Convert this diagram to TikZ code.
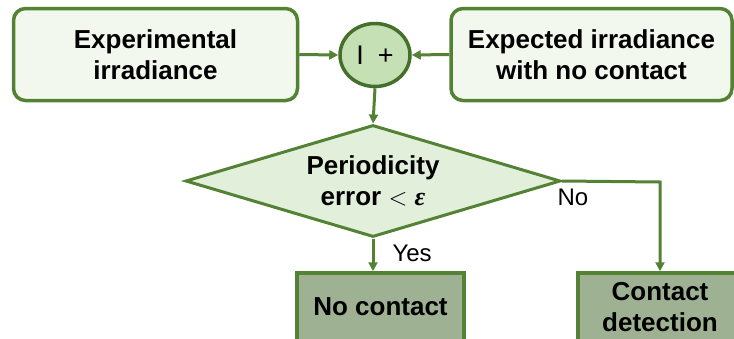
\documentclass[tikz,border=0pt]{standalone}
\usepackage{fontspec}
\setmainfont{Liberation Sans}
\newfontfamily\epsfont{Liberation Serif}
\usetikzlibrary{shapes.geometric,arrows.meta}
\definecolor{gborder}{HTML}{548235}
\definecolor{gdark}{HTML}{44702B}
\definecolor{glight}{HTML}{F3F8EF}
\definecolor{gcircle}{HTML}{C5E0B4}
\definecolor{gdiam}{HTML}{E2EFDA}
\definecolor{gbox}{HTML}{9EB293}
\tikzset{
  x=1pt,y=-1pt,
  txt/.style={font=\fontsize{26}{31}\selectfont\bfseries, align=center},
  inbox/.style={txt, draw=gborder, line width=3.5pt, fill=glight, rounded corners=12pt, inner sep=0pt},
  sumnode/.style={ellipse, draw=gdark, line width=3.5pt, fill=gcircle, minimum width=70pt, minimum height=63pt, inner sep=0pt, font=\fontsize{27}{30}\selectfont},
  decnode/.style={txt, diamond, aspect=3.35, draw=gborder, line width=3pt, fill=gdiam, minimum width=375pt, minimum height=112pt, inner sep=0pt},
  outbox/.style={txt, draw=gborder, line width=3.5pt, fill=gbox, inner sep=0pt, minimum height=68pt},
  conn/.style={draw=gborder, line width=3pt, -{Triangle[length=9pt,width=9pt]}},
  lbl/.style={font=\fontsize{24}{28}\selectfont, inner sep=0pt}
}
\begin{document}
\begin{tikzpicture}
\clip (0,0) rectangle (734,338);
\useasboundingbox (0,0) rectangle (734,338);
\node[inbox, minimum width=284pt, minimum height=92pt] (expl) at (155.5,54.5) {Experimental\\irradiance};
\node[inbox, minimum width=281pt, minimum height=92pt] (expd) at (591.5,54.5) {Expected irradiance\\with no contact};
\node[sumnode] (sum) at (375,55) {I\hspace{14pt}+};
\node[decnode] (dec) at (373,181) {Periodicity\\error {\mdseries$<$} {\epsfont\bfseries\itshape ε}};
\node[outbox, minimum width=167pt] (noc) at (380.5,307) {No contact};
\node[outbox, minimum width=164pt] (cd) at (660,307) {Contact\\detection};
\coordinate (corner) at (660,182);
\draw[conn] (expl.east) -- (sum.west);
\draw[conn] (expd.west) -- (sum.east);
\draw[conn] (sum.south) -- (dec.north);
\draw[conn] (dec.south) -- (dec.south |- noc.north) node[lbl, pos=0.45, right=18pt] (yes) {Yes};
\draw[conn] (dec.east) -- (corner) -- (cd.north);
\node[lbl] (no) at (573,197) {No};
\end{tikzpicture}
\end{document}
